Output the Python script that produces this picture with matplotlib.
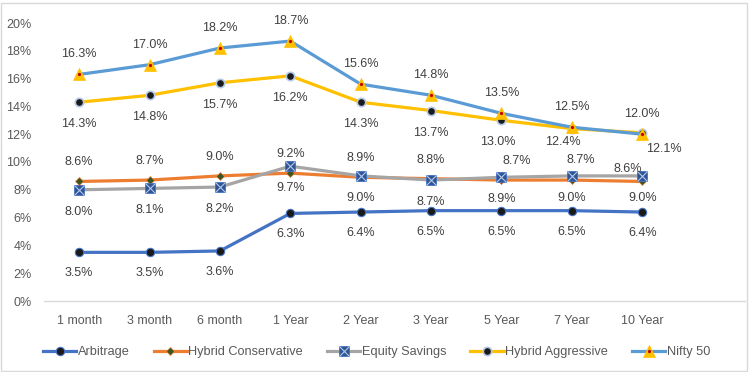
import matplotlib.pyplot as plt
import matplotlib.patches as patches

periods = ["1 month", "3 month", "6 month", "1 Year", "2 Year", "3 Year", "5 Year", "7 Year", "10 Year"]
arbitrage = [3.5, 3.5, 3.6, 6.3, 6.4, 6.5, 6.5, 6.5, 6.4]
hybrid_conservative = [8.6, 8.7, 9.0, 9.2, 8.9, 8.8, 8.7, 8.7, 8.6]
equity_savings = [8.0, 8.1, 8.2, 9.7, 9.0, 8.7, 8.9, 9.0, 9.0]
hybrid_aggressive = [14.3, 14.8, 15.7, 16.2, 14.3, 13.7, 13.0, 12.4, 12.1]
nifty_50 = [16.3, 17.0, 18.2, 18.7, 15.6, 14.8, 13.5, 12.5, 12.0]
y_ticks = [0, 2, 4, 6, 8, 10, 12, 14, 16, 18, 20]

plt.rcParams['font.family'] = ['Liberation Sans', 'DejaVu Sans']
text_col = '#595959'
label_col = '#404040'

fig = plt.figure(figsize=(7.53, 3.72), dpi=100)
W, H = 753, 372

# plot area in pixel coords: x 44..745, y 23..301
ax = fig.add_axes([44 / W, (H - 301) / H, (745 - 44) / W, (301 - 23) / H])
x = list(range(len(periods)))

lw = 2.3
h_arb, = ax.plot(x, arbitrage, color='#4472C4', lw=lw, marker='o', ms=6,
                 mfc='#1a1a1a', mec='#4472C4', mew=0.8, zorder=3)
h_hc, = ax.plot(x, hybrid_conservative, color='#ED7D31', lw=lw, marker='D', ms=4.5,
                mfc='#375623', mec='#ED7D31', mew=0.5, zorder=3)
h_es, = ax.plot(x, equity_savings, color='#A5A5A5', lw=lw, marker='s', ms=7.5,
                mfc='#2F5597', mec='#4472C4', mew=0.6, zorder=3)
h_es2, = ax.plot(x, equity_savings, ls='none', marker='x', ms=6.5,
                 mec='#B4C7E7', mew=0.8, zorder=4)
h_ha, = ax.plot(x, hybrid_aggressive, color='#FFC000', lw=lw, marker='o', ms=6,
                mfc='#1a1a1a', mec='#B4C7E7', mew=1.2, zorder=3)
h_n, = ax.plot(x, nifty_50, color='#5B9BD5', lw=lw, marker='^', ms=8,
               mfc='#FFC000', mec='#FFC000', mew=0.5, zorder=3)
h_n2, = ax.plot(x, nifty_50, ls='none', marker='o', ms=1.3,
                mfc='#C00000', mec='#C00000', zorder=4)

# data labels: default offsets in pixels (dx, dy), with exceptions
def put_labels(vals, dy, special=None):
    special = special or {}
    for i, v in enumerate(vals):
        off = special.get(i, (0, dy))
        ax.annotate(f"{v:.1f}%", (i, v), xytext=off, textcoords='offset pixels',
                    ha='center', va='center', fontsize=9, color=label_col, zorder=5)

put_labels(arbitrage, -21)
put_labels(hybrid_conservative, 19, {6: (15, 19), 7: (9, 20), 8: (-14, 12)})
put_labels(equity_savings, -22)
put_labels(hybrid_aggressive, -22, {6: (-4, -22), 7: (-9, -13), 8: (22, -16)})
put_labels(nifty_50, 20)

ax.set_xlim(-0.5, (745 - 79) / 70.4)
ax.set_ylim(0, 20)
ax.set_yticks(y_ticks)
ax.set_yticklabels([f"{t}%" for t in y_ticks])
ax.set_xticks(x)
ax.set_xticklabels(periods)
ax.tick_params(axis='both', length=0, labelsize=9, labelcolor=text_col)
ax.tick_params(axis='y', pad=9)
ax.tick_params(axis='x', pad=10)
for s in ['top', 'right', 'left']:
    ax.spines[s].set_visible(False)
ax.spines['bottom'].set_color('#D9D9D9')
ax.spines['bottom'].set_linewidth(1)

fig.legend([h_arb, h_hc, (h_es, h_es2), h_ha, (h_n, h_n2)],
           ["Arbitrage", "Hybrid Conservative", "Equity Savings", "Hybrid Aggressive", "Nifty 50"],
           loc='center', bbox_to_anchor=(0.5, (H - 352) / H), ncol=5, frameon=False,
           fontsize=9.2, labelcolor=text_col, handlelength=2.6, handletextpad=0.1,
           columnspacing=1.9)

fig.patches.append(patches.Rectangle((1 / W, (H - 371) / H), (747 - 1) / W, (371 - 3) / H,
                                     transform=fig.transFigure, fill=False,
                                     edgecolor='#D9D9D9', lw=1))

fig.savefig('out.png', dpi=100)
